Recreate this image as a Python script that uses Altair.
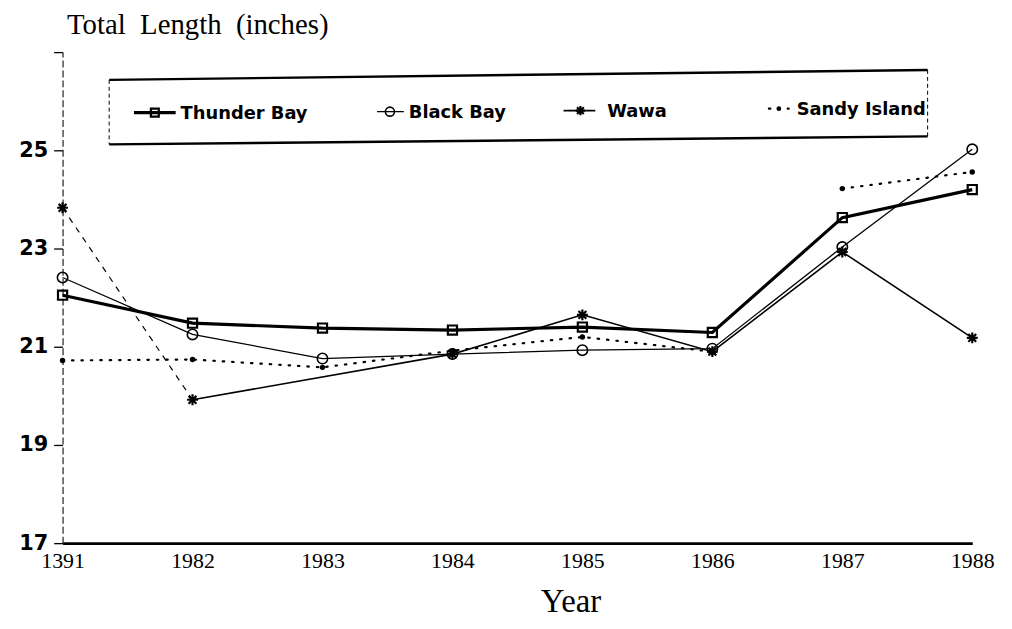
import altair as alt
import pandas as pd

# ---- data ----
years = [1981, 1982, 1983, 1984, 1985, 1986, 1987, 1988]
series_names = ["Thunder Bay", "Black Bay", "Wawa", "Sandy Island"]
thunder_bay = [22.05, 21.48, 21.38, 21.34, 21.40, 21.29, 23.63, 24.20]
black_bay = [22.41, 21.25, 20.76, 20.85, 20.93, 20.96, 23.03, 25.02]
wawa = [23.83, 19.92, None, 20.85, 21.65, 20.90, 22.93, 21.18]
sandy_island = [20.72, 20.74, 20.58, 20.92, 21.20, 20.90, 24.22, 24.56]
# Sandy Island's dotted line is not drawn between 1986 and 1987
sandy_run = [0, 0, 0, 0, 0, 0, 1, 1]
y_ticks = [17, 19, 21, 23, 25, 27]

values = {
    "Thunder Bay": thunder_bay,
    "Black Bay": black_bay,
    "Wawa": wawa,
    "Sandy Island": sandy_island,
}
rows = []
for name in series_names:
    for i, (yr, v) in enumerate(zip(years, values[name])):
        if v is None:
            continue
        run = sandy_run[i] if name == "Sandy Island" else 0
        rows.append({"year": yr, "value": v, "series": name, "run": run})
df = pd.DataFrame(rows)

STAR = "M-1,0L1,0M0,-1L0,1M-0.72,-0.72L0.72,0.72M-0.72,0.72L0.72,-0.72"
styles = {
    "Thunder Bay": dict(line=dict(strokeWidth=3.2),
                        point=dict(shape="square", filled=False, size=85, strokeWidth=2.2)),
    "Black Bay": dict(line=dict(strokeWidth=1.3),
                      point=dict(shape="circle", filled=False, size=110, strokeWidth=1.6)),
    "Wawa": dict(line=dict(strokeWidth=1.6),
                 point=dict(shape=STAR, filled=False, size=120, strokeWidth=2.2)),
    "Sandy Island": dict(line=dict(strokeWidth=2.2, strokeDash=[1.5, 8], strokeCap="round"),
                         point=dict(shape="circle", filled=True, size=30)),
}

x_enc = alt.X(
    "year:Q",
    scale=alt.Scale(domain=[1981, 1988], nice=False, zero=False),
    axis=alt.Axis(
        values=years, format="d",
        labelExpr="datum.value == 1981 ? '1391' : datum.label",
        labelFont="Liberation Serif", labelFontSize=22, labelColor="#000",
        labelPadding=8, labelFlush=False,
        ticks=False, grid=False,
        domainColor="#000", domainWidth=2.6,
        title="Year", titleFont="Liberation Serif", titleFontSize=33,
        titleFontWeight="normal", titleColor="#000",
        titleX=512, titleY=69, titleBaseline="alphabetic",
    ),
)
y_enc = alt.Y(
    "value:Q",
    scale=alt.Scale(domain=[17, 27], nice=False, zero=False),
    axis=alt.Axis(
        values=y_ticks,
        labelExpr="datum.value == 27 ? '' : datum.label",
        labelFont="DejaVu Sans", labelFontWeight="bold", labelFontSize=21,
        labelColor="#000", labelPadding=6,
        tickSize=9, tickColor="#000", tickWidth=1.3,
        grid=False,
        domainColor="#222", domainWidth=1.2, domainDash=[7, 3],
        title="Total\u00a0\u00a0Length\u00a0\u00a0(inches)",
        titleFont="Liberation Serif", titleFontSize=29, titleFontWeight="normal",
        titleColor="#000", titleAngle=0, titleAlign="left",
        titleBaseline="alphabetic", titleX=4, titleY=-19,
    ),
)

layers = []
for name in series_names:
    sub = alt.Chart(df).transform_filter(alt.datum.series == name)
    st = styles[name]
    if name == "Wawa":
        # first segment is faint/dashed in the scan, the rest solid
        layers.append(
            sub.transform_filter(alt.datum.year <= 1982)
            .mark_line(color="#000", strokeWidth=1.2, strokeDash=[6, 6])
            .encode(x=x_enc, y=y_enc, order="year:Q")
        )
        layers.append(
            sub.transform_filter(alt.datum.year >= 1982)
            .mark_line(color="#000", **st["line"])
            .encode(x=x_enc, y=y_enc, order="year:Q")
        )
    else:
        layers.append(
            sub.mark_line(color="#000", **st["line"]).encode(
                x=x_enc, y=y_enc, detail="run:N", order="year:Q")
        )
    layers.append(
        sub.mark_point(color="#000", opacity=1, **st["point"]).encode(x=x_enc, y=y_enc)
    )

one = alt.Data(values=[{"k": 0}])

# legend box (slightly tilted, as scanned)
box_lines = [
    (47, 28, 872, 18, 2.4, None),
    (47, 93, 872, 85, 2.4, None),
    (47, 28, 47, 93, 1.0, [4, 3]),
    (872, 18, 872, 85, 1.0, [4, 3]),
]
for (x1, y1, x2, y2, w, dash) in box_lines:
    kw = dict(color="#000", strokeWidth=w)
    if dash:
        kw["strokeDash"] = dash
    layers.append(
        alt.Chart(one).mark_rule(**kw).encode(
            x=alt.value(x1), y=alt.value(y1), x2=alt.value(x2), y2=alt.value(y2))
    )

# legend items: (name, line start, line end, marker x, text x, y)
legend_items = [
    ("Thunder Bay", 72, 114, 93, 119, 61),
    ("Black Bay", 317, 344, 330, 349, 60),
    ("Wawa", 505, 537, 522, 549, 59),
    ("Sandy Island", 712, 732, 722, 740, 57),
]
for (name, lx1, lx2, mx, tx, ly) in legend_items:
    st = styles[name]
    layers.append(
        alt.Chart(one).mark_rule(color="#000", **st["line"]).encode(
            x=alt.value(lx1), x2=alt.value(lx2), y=alt.value(ly))
    )
    pt = dict(st["point"])
    pt["size"] = pt.get("size", 60) * 0.75
    layers.append(
        alt.Chart(one).mark_point(color="#000", opacity=1, **pt).encode(
            x=alt.value(mx), y=alt.value(ly))
    )
    layers.append(
        alt.Chart(one).mark_text(
            text=name, align="left", baseline="middle", font="DejaVu Sans",
            fontWeight="bold", fontSize=18, color="#000").encode(
            x=alt.value(tx), y=alt.value(ly + 1))
    )

chart = alt.layer(*layers).properties(
    width=917, height=495,
    autosize=alt.AutoSizeParams(type="none"),
    padding={"left": 55, "top": 42, "right": 32, "bottom": 76},
    background="#ffffff",
).configure_view(stroke=None)

chart.save("out.html", embed_options={"renderer": "svg", "actions": False})
